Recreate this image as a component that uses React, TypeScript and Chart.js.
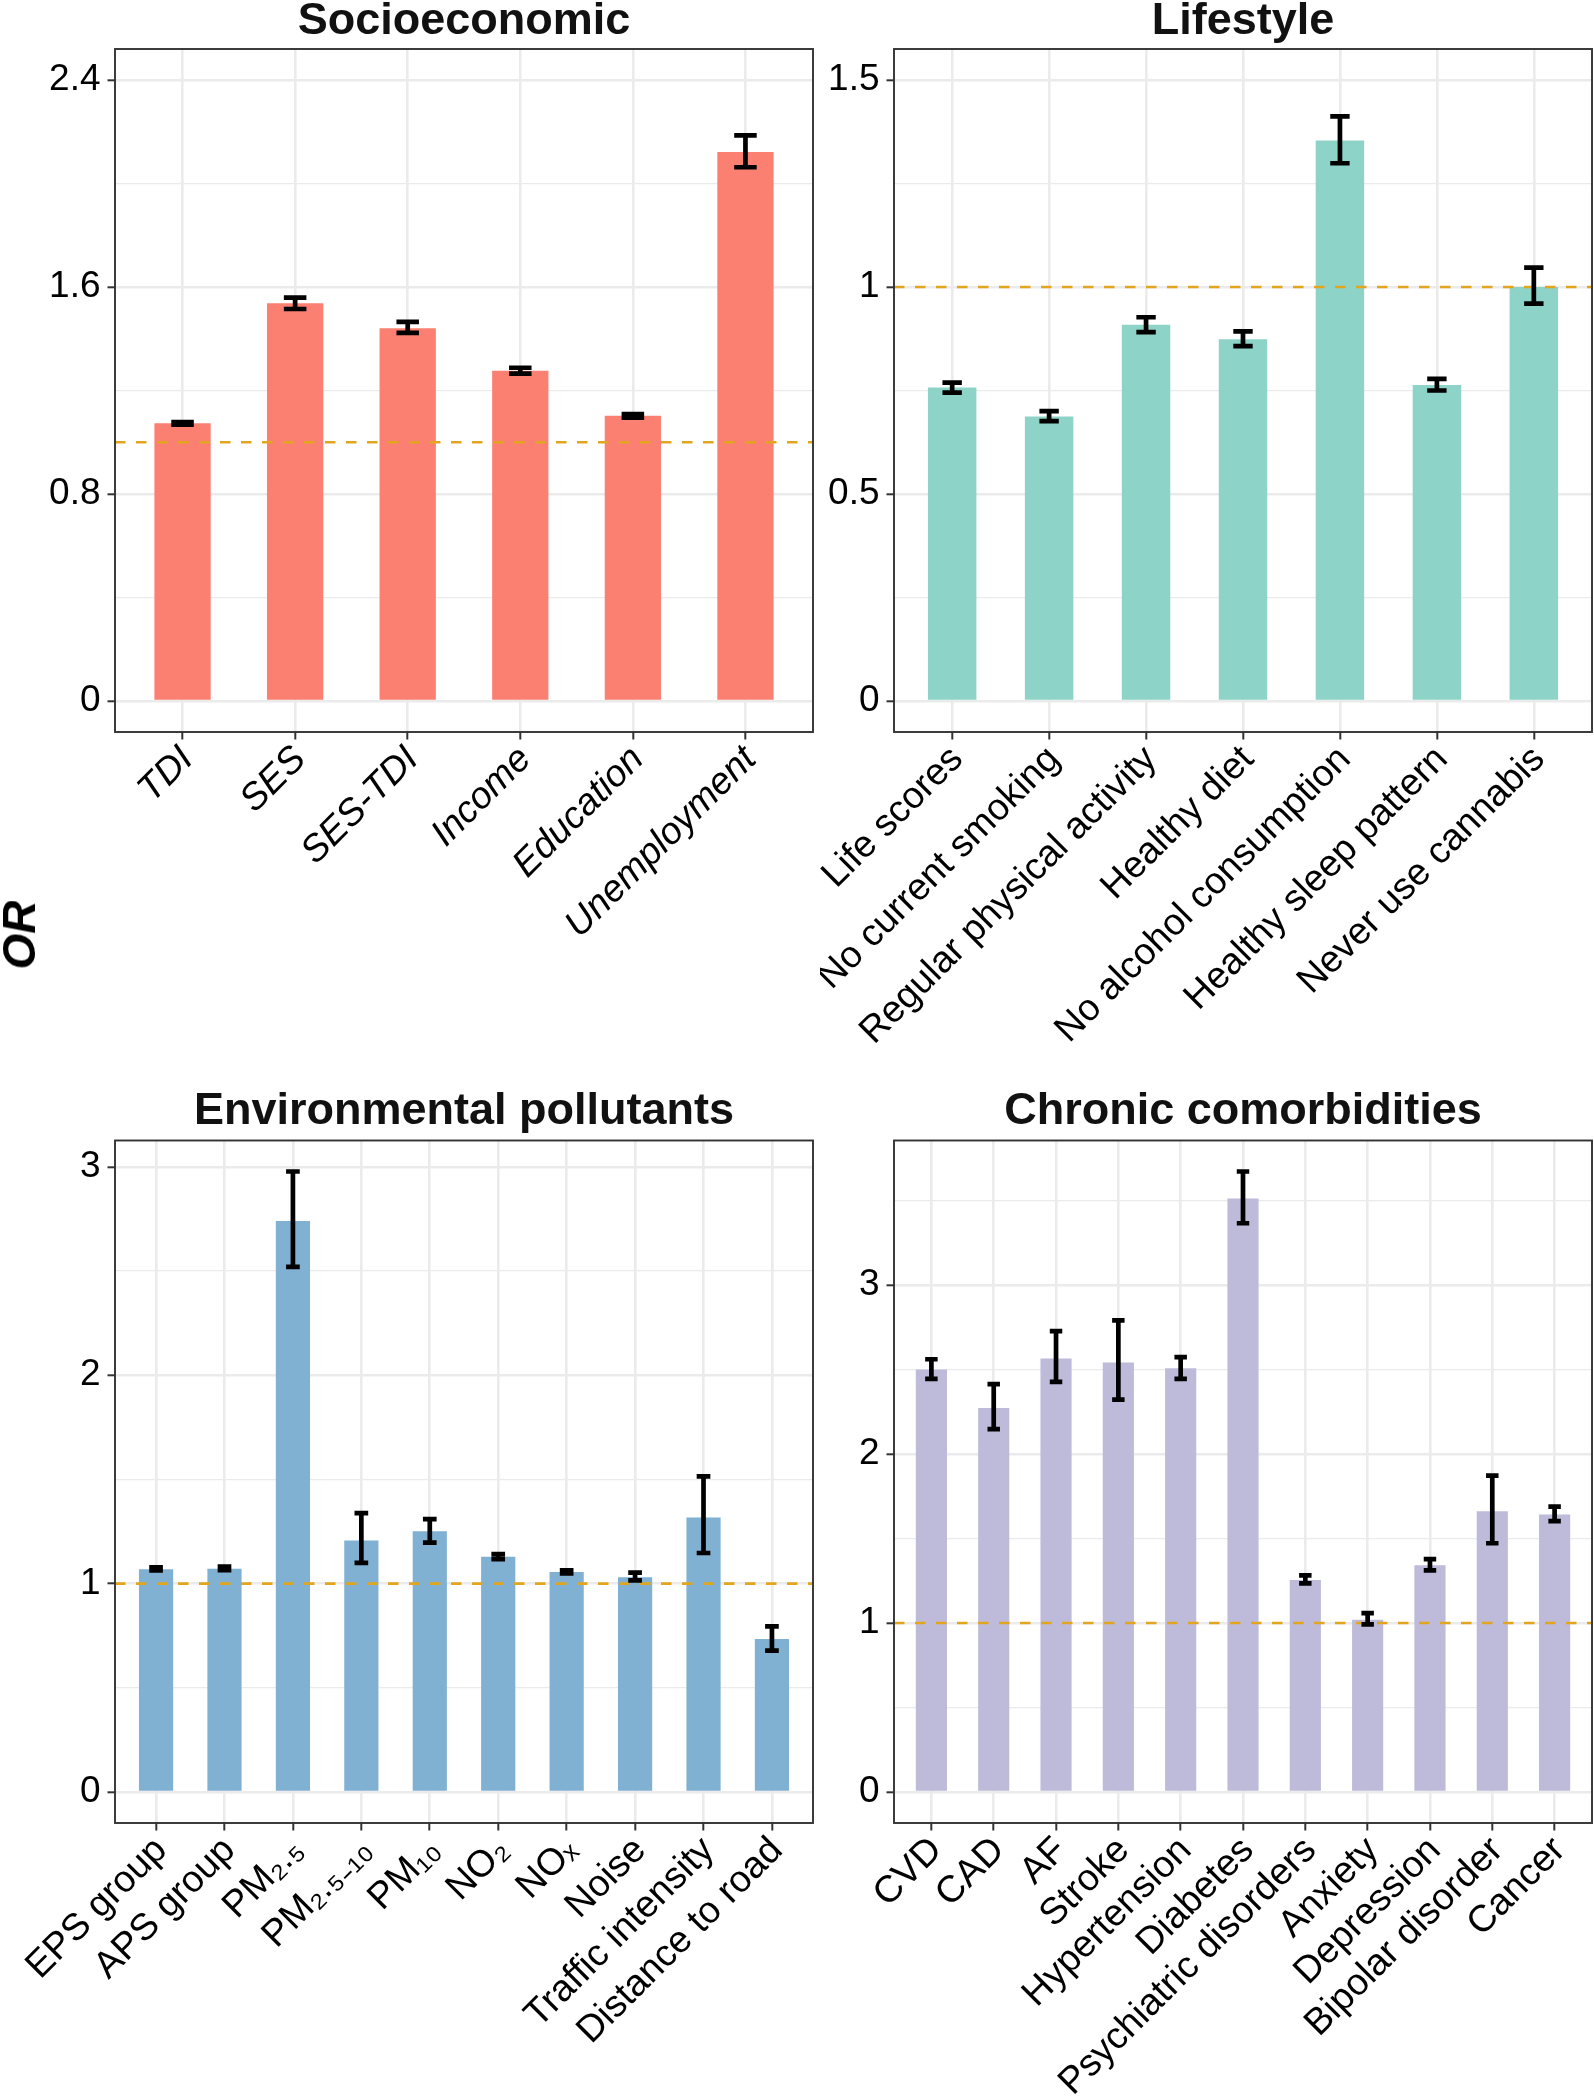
import React, { useEffect, useRef } from 'react';
import { Chart, registerables } from 'chart.js';

Chart.register(...registerables);

const FONT = '"Liberation Sans", Arial, Helvetica, sans-serif';

// ---------- Socioeconomic ----------
const socioCategories = ['TDI', 'SES', 'SES-TDI', 'Income', 'Education', 'Unemployment'];
const socioOR = [1.073, 1.537, 1.441, 1.276, 1.102, 2.122];
const socioLower = [1.068, 1.515, 1.423, 1.265, 1.095, 2.063];
const socioUpper = [1.078, 1.559, 1.465, 1.288, 1.109, 2.186];
const socioLimits = [0, 2.4];
const socioMajorTicks = [0, 0.8, 1.6, 2.4];
const socioTickLabels = ['0', '0.8', '1.6', '2.4'];
const socioMinorTicks = [0.4, 1.2, 2.0];

// ---------- Lifestyle ----------
const lifestyleCategories = [
  'Life scores',
  'No current smoking',
  'Regular physical activity',
  'Healthy diet',
  'No alcohol consumption',
  'Healthy sleep pattern',
  'Never use cannabis',
];
const lifestyleOR = [0.757, 0.687, 0.909, 0.874, 1.354, 0.763, 1.0];
const lifestyleLower = [0.745, 0.676, 0.891, 0.857, 1.299, 0.75, 0.96];
const lifestyleUpper = [0.769, 0.7, 0.927, 0.893, 1.412, 0.778, 1.047];
const lifestyleLimits = [0, 1.5];
const lifestyleMajorTicks = [0, 0.5, 1, 1.5];
const lifestyleTickLabels = ['0', '0.5', '1', '1.5'];
const lifestyleMinorTicks = [0.25, 0.75, 1.25];

// ---------- Environmental pollutants ----------
const envCategories = [
  'EPS group',
  'APS group',
  'PM\u2082.\u2085',
  'PM\u2082.\u2085\u208B\u2081\u2080',
  'PM\u2081\u2080',
  'NO\u2082',
  'NO\u2093',
  'Noise',
  'Traffic intensity',
  'Distance to road',
];
const envOR = [1.069, 1.072, 2.74, 1.207, 1.251, 1.129, 1.056, 1.031, 1.317, 0.734];
const envLower = [1.063, 1.065, 2.52, 1.1, 1.197, 1.118, 1.049, 1.016, 1.147, 0.678];
const envUpper = [1.078, 1.082, 2.978, 1.338, 1.31, 1.142, 1.064, 1.053, 1.515, 0.795];
const envMajorTicks = [0, 1, 2, 3];
const envTickLabels = ['0', '1', '2', '3'];
const envMinorTicks = [0.5, 1.5, 2.5];

// ---------- Chronic comorbidities ----------
const chronicCategories = [
  'CVD',
  'CAD',
  'AF',
  'Stroke',
  'Hypertension',
  'Diabetes',
  'Psychiatric disorders',
  'Anxiety',
  'Depression',
  'Bipolar disorder',
  'Cancer',
];
const chronicOR = [2.5, 2.273, 2.565, 2.542, 2.508, 3.512, 1.254, 1.019, 1.342, 1.662, 1.642];
const chronicLower = [2.445, 2.147, 2.427, 2.322, 2.445, 3.366, 1.234, 0.992, 1.311, 1.472, 1.603];
const chronicUpper = [2.561, 2.414, 2.727, 2.791, 2.574, 3.672, 1.282, 1.059, 1.378, 1.872, 1.689];
const chronicMajorTicks = [0, 1, 2, 3];
const chronicTickLabels = ['0', '1', '2', '3'];
const chronicMinorTicks = [0.5, 1.5, 2.5, 3.5];

const referenceOR = 1;

const COLORS = {
  socio: '#FB8072',
  lifestyle: '#8DD3C7',
  env: '#80B1D3',
  chronic: '#BEBADA',
  ref: '#E1A51E',
  grid: '#EBEBEB',
  frame: '#333333',
};

type PanelSpec = {
  title: string;
  categories: string[];
  values: number[];
  lower: number[];
  upper: number[];
  limits: number[] | null;
  majorTicks: number[];
  tickLabels: string[];
  minorTicks: number[];
  color: string;
  italicLabels: boolean;
  left: number;
  top: number;
  width: number;
  height: number;
  yAxisWidth: number;
  xAxisHeight: number;
  padTop: number;
  padRight: number;
  titleGap: number;
};

const near = (a: number, b: number) => Math.abs(a - b) < 1e-6;

const decoPlugin = {
  id: 'panelDeco',
  afterDatasetsDraw(chart: any, _args: any, opts: any) {
    const { ctx, chartArea: a, scales } = chart;
    const xs = scales.x;
    const ys = scales.y;
    ctx.save();
    ctx.beginPath();
    ctx.rect(a.left, a.top, a.right - a.left, a.bottom - a.top);
    ctx.clip();
    // reference line at OR = 1
    const yr = ys.getPixelForValue(opts.refValue);
    ctx.setLineDash([10.5, 10.5]);
    ctx.lineDashOffset = 0;
    ctx.strokeStyle = COLORS.ref;
    ctx.lineWidth = 2.6;
    ctx.beginPath();
    ctx.moveTo(a.left, yr);
    ctx.lineTo(a.right, yr);
    ctx.stroke();
    ctx.setLineDash([]);
    // error bars
    ctx.strokeStyle = '#000';
    ctx.lineWidth = 4.7;
    ctx.lineCap = 'butt';
    ctx.lineJoin = 'miter';
    (opts.lower as number[]).forEach((lo, i) => {
      const hi = opts.upper[i];
      const xc = xs.getPixelForValue(i);
      const xl = xs.getPixelForValue(i - 0.1);
      const xr = xs.getPixelForValue(i + 0.1);
      const yl = ys.getPixelForValue(lo);
      const yh = ys.getPixelForValue(hi);
      ctx.beginPath();
      ctx.moveTo(xl, yh);
      ctx.lineTo(xr, yh);
      ctx.moveTo(xc, yh);
      ctx.lineTo(xc, yl);
      ctx.moveTo(xl, yl);
      ctx.lineTo(xr, yl);
      ctx.stroke();
    });
    ctx.restore();
    // panel border
    ctx.save();
    ctx.strokeStyle = COLORS.frame;
    ctx.lineWidth = 1.9;
    ctx.strokeRect(a.left, a.top, a.right - a.left, a.bottom - a.top);
    ctx.restore();
  },
};

function Panel({ spec }: { spec: PanelSpec }) {
  const ref = useRef<HTMLCanvasElement>(null);
  useEffect(() => {
    const canvas = ref.current;
    if (!canvas) return;
    const n = spec.categories.length;
    let lo: number;
    let hi: number;
    if (spec.limits) {
      lo = spec.limits[0];
      hi = spec.limits[1];
    } else {
      lo = 0;
      hi = Math.max(...spec.upper);
    }
    const pad = (hi - lo) * 0.05;
    const allTicks = [...spec.majorTicks, ...spec.minorTicks].sort((a, b) => a - b);
    const isMajor = (v: number) => spec.majorTicks.some((m) => near(m, v));

    const chart = new Chart(canvas, {
      type: 'bar',
      data: {
        datasets: [
          {
            data: spec.values.map((v, i) => ({ x: i, y: v })),
            backgroundColor: spec.color,
            borderWidth: 0,
            barPercentage: 0.5,
            categoryPercentage: 1,
          } as any,
        ],
      },
      options: {
        responsive: false,
        animation: false,
        devicePixelRatio: 1,
        layout: {
          padding: { left: 0, right: spec.padRight, top: spec.padTop, bottom: 0 },
          autoPadding: false,
        } as any,
        plugins: {
          legend: { display: false },
          tooltip: { enabled: false },
          title: {
            display: true,
            text: spec.title,
            fullSize: false,
            color: '#111111',
            font: { family: FONT, size: 45, weight: 'bold', lineHeight: 38 / 45 },
            padding: { top: 0, bottom: spec.titleGap },
          },
          panelDeco: {
            lower: spec.lower,
            upper: spec.upper,
            refValue: referenceOR,
          },
        } as any,
        scales: {
          x: {
            type: 'linear',
            bounds: 'data',
            offset: false,
            min: -0.6,
            max: n - 0.4,
            afterBuildTicks: (s: any) => {
              s.ticks = spec.categories.map((_, i) => ({ value: i }));
            },
            afterFit: (s: any) => {
              s.height = spec.xAxisHeight;
              s.paddingLeft = 0;
              s.paddingRight = 0;
            },
            ticks: {
              autoSkip: false,
              minRotation: 45,
              maxRotation: 45,
              labelOffset: 5,
              padding: -2,
              color: '#000000',
              font: {
                family: FONT,
                size: 37.5,
                style: spec.italicLabels ? 'italic' : 'normal',
              },
              callback: (v: any) => {
                const i = Math.round(Number(v));
                return spec.categories[i] ?? '';
              },
            },
            grid: {
              offset: false,
              color: COLORS.grid,
              lineWidth: 2.6,
              drawTicks: true,
              tickColor: COLORS.frame,
              tickWidth: 2,
              tickLength: 7.5,
            },
            border: { display: false },
          } as any,
          y: {
            type: 'linear',
            bounds: 'data',
            min: lo - pad,
            max: hi + pad,
            afterBuildTicks: (s: any) => {
              s.ticks = allTicks.map((v) => ({ value: v }));
            },
            afterFit: (s: any) => {
              s.width = spec.yAxisWidth;
              s.paddingTop = 0;
              s.paddingBottom = 0;
            },
            ticks: {
              autoSkip: false,
              padding: 7,
              color: '#000000',
              font: { family: FONT, size: 37 },
              callback: (v: any) => {
                const idx = spec.majorTicks.findIndex((m) => near(m, Number(v)));
                return idx >= 0 ? spec.tickLabels[idx] : '';
              },
            },
            grid: {
              color: COLORS.grid,
              lineWidth: (c: any) => (c.tick && isMajor(c.tick.value) ? 2.6 : 1.3),
              drawTicks: true,
              tickColor: (c: any) => (c.tick && isMajor(c.tick.value) ? COLORS.frame : 'rgba(0,0,0,0)'),
              tickWidth: 2,
              tickLength: 7.5,
            },
            border: { display: false },
          } as any,
        },
      },
      plugins: [decoPlugin as any],
    });
    return () => chart.destroy();
  }, [spec]);
  return (
    <canvas
      ref={ref}
      width={spec.width}
      height={spec.height}
      style={{ position: 'absolute', left: spec.left, top: spec.top, display: 'block' }}
    />
  );
}

const panels: PanelSpec[] = [
  {
    title: 'Socioeconomic',
    categories: socioCategories,
    values: socioOR,
    lower: socioLower,
    upper: socioUpper,
    limits: socioLimits,
    majorTicks: socioMajorTicks,
    tickLabels: socioTickLabels,
    minorTicks: socioMinorTicks,
    color: COLORS.socio,
    italicLabels: true,
    left: 0,
    top: 0,
    width: 820,
    height: 1080,
    yAxisWidth: 115,
    xAxisHeight: 348,
    padTop: 3,
    padRight: 7,
    titleGap: 8,
  },
  {
    title: 'Lifestyle',
    categories: lifestyleCategories,
    values: lifestyleOR,
    lower: lifestyleLower,
    upper: lifestyleUpper,
    limits: lifestyleLimits,
    majorTicks: lifestyleMajorTicks,
    tickLabels: lifestyleTickLabels,
    minorTicks: lifestyleMinorTicks,
    color: COLORS.lifestyle,
    italicLabels: false,
    left: 820,
    top: 0,
    width: 774,
    height: 1080,
    yAxisWidth: 74,
    xAxisHeight: 348,
    padTop: 3,
    padRight: 2,
    titleGap: 8,
  },
  {
    title: 'Environmental pollutants',
    categories: envCategories,
    values: envOR,
    lower: envLower,
    upper: envUpper,
    limits: null,
    majorTicks: envMajorTicks,
    tickLabels: envTickLabels,
    minorTicks: envMinorTicks,
    color: COLORS.env,
    italicLabels: false,
    left: 0,
    top: 1080,
    width: 820,
    height: 1020,
    yAxisWidth: 115,
    xAxisHeight: 277,
    padTop: 13,
    padRight: 7,
    titleGap: 9.5,
  },
  {
    title: 'Chronic comorbidities',
    categories: chronicCategories,
    values: chronicOR,
    lower: chronicLower,
    upper: chronicUpper,
    limits: null,
    majorTicks: chronicMajorTicks,
    tickLabels: chronicTickLabels,
    minorTicks: chronicMinorTicks,
    color: COLORS.chronic,
    italicLabels: false,
    left: 820,
    top: 1080,
    width: 774,
    height: 1020,
    yAxisWidth: 74,
    xAxisHeight: 277,
    padTop: 13,
    padRight: 2,
    titleGap: 9.5,
  },
];

export default function App() {
  return (
    <div
      style={{
        position: 'absolute',
        left: 0,
        top: 0,
        width: 1594,
        height: 2100,
        background: '#ffffff',
        overflow: 'hidden',
      }}
    >
      {panels.map((p) => (
        <Panel key={p.title} spec={p} />
      ))}
      <div
        style={{
          position: 'absolute',
          left: 19,
          top: 935,
          transform: 'translate(-50%, -50%) rotate(-90deg)',
          fontFamily: FONT,
          fontSize: 46,
          fontWeight: 'bold',
          fontStyle: 'italic',
          color: '#000',
          whiteSpace: 'nowrap',
          lineHeight: 1,
        }}
      >
        OR
      </div>
    </div>
  );
}
